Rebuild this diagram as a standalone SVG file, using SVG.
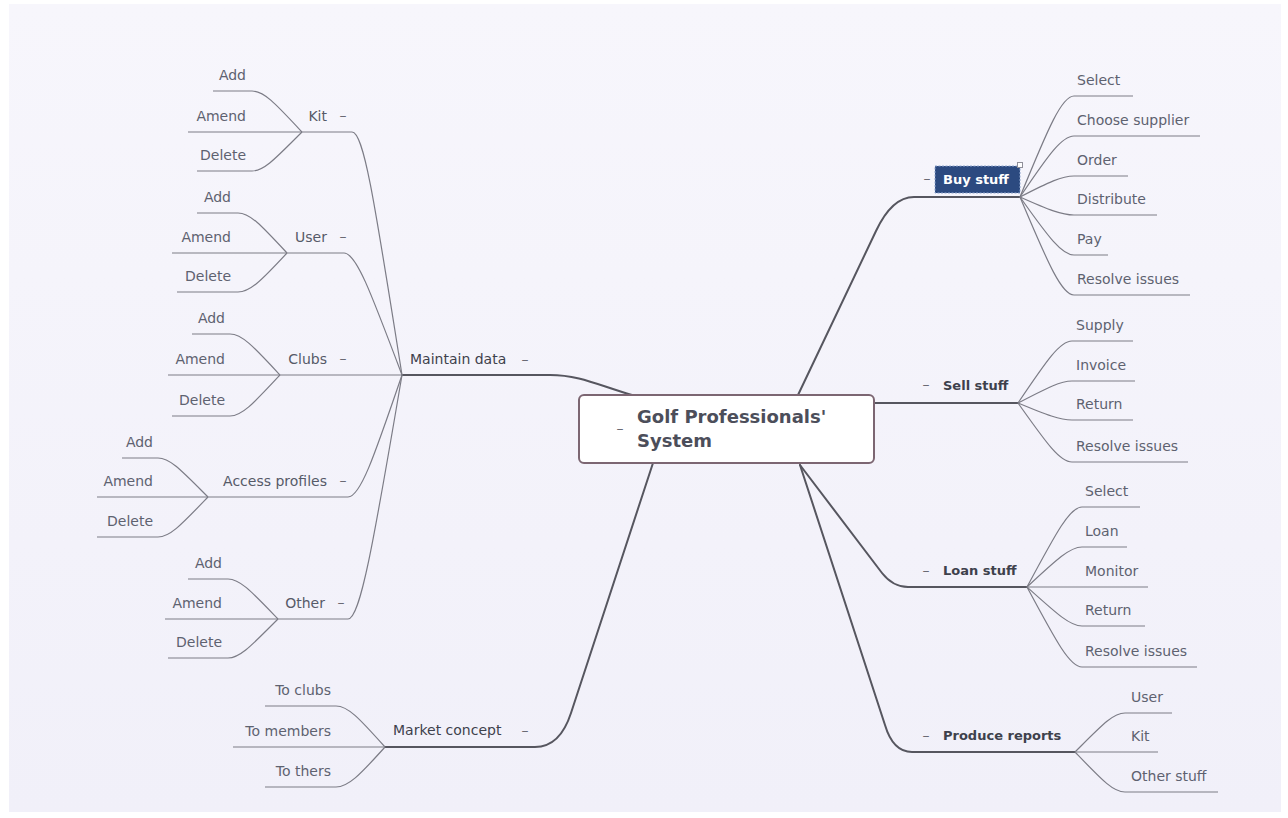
<svg xmlns="http://www.w3.org/2000/svg" width="1288" height="818" viewBox="0 0 1288 818">
<defs>
<linearGradient id="bg" x1="0" y1="0" x2="0" y2="1">
<stop offset="0" stop-color="#f7f6fc"/>
<stop offset="1" stop-color="#f1f0f9"/>
</linearGradient>
<style>
.main{fill:none;stroke:#56565f;stroke-width:2;stroke-linecap:round}
.sub{fill:none;stroke:#7c7c86;stroke-width:1.2}
text{font-family:"DejaVu Sans","Liberation Sans",sans-serif}
.leaf{font-size:14px;fill:#5e6270}
.lv2{font-size:14px;fill:#565a68}
.lv1{font-size:14px;fill:#3e414c}
.lv1b{font-size:13px;font-weight:bold;fill:#3e414c}
.dash{font-size:14px;fill:#6a6a74}
.end{text-anchor:end}
.mid{text-anchor:middle}
</style>
</defs>
<rect x="0" y="0" width="1288" height="818" fill="#ffffff"/>
<rect x="9" y="4" width="1272" height="808" fill="url(#bg)"/>

<g id="connectors">
<path class="main" d="M402,375 H550 C580,375 600,386 632,395"/>
<path class="main" d="M653,463 L571,713 Q560,747 535,747 H385"/>
<path class="main" d="M798,395 L876,231 Q892,197 914,197 H1020"/>
<path class="main" d="M874,403 H1018"/>
<path class="main" d="M800,465 L882,573 Q893,587 908,587 H1027"/>
<path class="main" d="M800,465 L885,725 Q893,752 912,752 H1075"/>

<path class="sub" d="M1020,197 C1049,126 1062,96 1074,96 H1133"/>
<path class="sub" d="M1020,197 C1049,154 1062,136 1074,136 H1200"/>
<path class="sub" d="M1020,197 C1049,182 1062,176 1074,176 H1128"/>
<path class="sub" d="M1020,197 C1049,210 1062,215 1074,215 H1157"/>
<path class="sub" d="M1020,197 C1049,238 1062,255 1074,255 H1108"/>
<path class="sub" d="M1020,197 C1049,266 1062,295 1074,295 H1190"/>

<path class="sub" d="M1018,403 C1047,360 1060,341 1072,341 H1133"/>
<path class="sub" d="M1018,403 C1047,388 1060,381 1072,381 H1135"/>
<path class="sub" d="M1018,403 C1047,415 1060,420 1072,420 H1133"/>
<path class="sub" d="M1018,403 C1047,444 1060,462 1072,462 H1188"/>

<path class="sub" d="M1027,587 C1057,531 1070,507 1082,507 H1140"/>
<path class="sub" d="M1027,587 C1057,559 1070,547 1082,547 H1127"/>
<path class="sub" d="M1027,587 H1148"/>
<path class="sub" d="M1027,587 C1057,614 1070,626 1082,626 H1145"/>
<path class="sub" d="M1027,587 C1057,643 1070,667 1082,667 H1197"/>

<path class="sub" d="M1075,752 C1102,725 1113,713 1125,713 H1172"/>
<path class="sub" d="M1075,752 H1158"/>
<path class="sub" d="M1075,752 C1102,780 1113,792 1125,792 H1218"/>

<path class="sub" d="M402,375 C375,205 364,132 352,132 H302"/>
<path class="sub" d="M402,375 C370,290 356,253 344,253 H287"/>
<path class="sub" d="M402,375 H280"/>
<path class="sub" d="M402,375 C373,460 360,497 348,497 H208"/>
<path class="sub" d="M402,375 C373,546 360,619 348,619 H278"/>

<path class="sub" d="M302,132 C275,103 264,91 252,91 H213"/>
<path class="sub" d="M302,132 H188"/>
<path class="sub" d="M302,132 C275,159 264,171 252,171 H197"/>

<path class="sub" d="M287,253 C261,225 250,213 238,213 H197"/>
<path class="sub" d="M287,253 H172"/>
<path class="sub" d="M287,253 C261,281 250,292 238,292 H177"/>

<path class="sub" d="M280,375 C253,346 242,334 230,334 H192"/>
<path class="sub" d="M280,375 H168"/>
<path class="sub" d="M280,375 C253,404 242,416 230,416 H172"/>

<path class="sub" d="M208,497 C181,470 170,458 158,458 H122"/>
<path class="sub" d="M208,497 H97"/>
<path class="sub" d="M208,497 C181,525 170,537 158,537 H97"/>

<path class="sub" d="M278,619 C251,591 240,579 228,579 H188"/>
<path class="sub" d="M278,619 H165"/>
<path class="sub" d="M278,619 C251,646 240,658 228,658 H168"/>

<path class="sub" d="M385,747 C359,718 348,706 336,706 H265"/>
<path class="sub" d="M385,747 H233"/>
<path class="sub" d="M385,747 C359,776 348,787 336,787 H265"/>
</g>

<g id="center">
<rect x="579" y="395" width="295" height="68" rx="5" fill="#ffffff" stroke="#7c6672" stroke-width="2"/>
<text class="dash" x="620" y="433" text-anchor="middle">–</text>
<text x="637" y="423" font-size="18" font-weight="bold" fill="#4c4e5a">Golf Professionals'</text>
<text x="637" y="447" font-size="18" font-weight="bold" fill="#4c4e5a">System</text>
</g>

<g id="buy-stuff">
<text class="dash mid" x="927" y="183">–</text>
<rect x="935" y="166" width="85" height="27" fill="#2c4a80" stroke="#8fa6cf" stroke-width="1" stroke-dasharray="2,1.5"/>
<rect x="1017.500" y="162.500" width="5" height="5" fill="#ffffff" stroke="#8f8f99" stroke-width="1"/>
<text x="943" y="184" font-size="13" font-weight="bold" fill="#ffffff">Buy stuff</text>
</g>
<g id="buy-select"><text class="leaf" x="1077" y="85">Select</text></g>
<g id="buy-choose"><text class="leaf" x="1077" y="125">Choose supplier</text></g>
<g id="buy-order"><text class="leaf" x="1077" y="165">Order</text></g>
<g id="buy-distribute"><text class="leaf" x="1077" y="204">Distribute</text></g>
<g id="buy-pay"><text class="leaf" x="1077" y="244">Pay</text></g>
<g id="buy-resolve"><text class="leaf" x="1077" y="284">Resolve issues</text></g>

<g id="sell-stuff"><text class="dash mid" x="926" y="389">–</text><text class="lv1b" x="943" y="390">Sell stuff</text></g>
<g id="sell-supply"><text class="leaf" x="1076" y="330">Supply</text></g>
<g id="sell-invoice"><text class="leaf" x="1076" y="370">Invoice</text></g>
<g id="sell-return"><text class="leaf" x="1076" y="409">Return</text></g>
<g id="sell-resolve"><text class="leaf" x="1076" y="451">Resolve issues</text></g>

<g id="loan-stuff"><text class="dash mid" x="926" y="575">–</text><text class="lv1b" x="943" y="575">Loan stuff</text></g>
<g id="loan-select"><text class="leaf" x="1085" y="496">Select</text></g>
<g id="loan-loan"><text class="leaf" x="1085" y="536">Loan</text></g>
<g id="loan-monitor"><text class="leaf" x="1085" y="576">Monitor</text></g>
<g id="loan-return"><text class="leaf" x="1085" y="615">Return</text></g>
<g id="loan-resolve"><text class="leaf" x="1085" y="656">Resolve issues</text></g>

<g id="produce-reports"><text class="dash mid" x="926" y="740">–</text><text class="lv1b" x="943" y="740">Produce reports</text></g>
<g id="rep-user"><text class="leaf" x="1131" y="702">User</text></g>
<g id="rep-kit"><text class="leaf" x="1131" y="741">Kit</text></g>
<g id="rep-other"><text class="leaf" x="1131" y="781">Other stuff</text></g>

<g id="maintain-data"><text class="lv1" x="410" y="364">Maintain data</text><text class="dash mid" x="525" y="364">–</text></g>

<g id="kit"><text class="lv2 end" x="327" y="121">Kit</text><text class="dash mid" x="343" y="120">–</text></g>
<g id="kit-add"><text class="leaf end" x="246" y="80">Add</text></g>
<g id="kit-amend"><text class="leaf end" x="246" y="121">Amend</text></g>
<g id="kit-delete"><text class="leaf end" x="246" y="160">Delete</text></g>

<g id="user"><text class="lv2 end" x="327" y="242">User</text><text class="dash mid" x="343" y="241">–</text></g>
<g id="user-add"><text class="leaf end" x="231" y="202">Add</text></g>
<g id="user-amend"><text class="leaf end" x="231" y="242">Amend</text></g>
<g id="user-delete"><text class="leaf end" x="231" y="281">Delete</text></g>

<g id="clubs"><text class="lv2 end" x="327" y="364">Clubs</text><text class="dash mid" x="343" y="363">–</text></g>
<g id="clubs-add"><text class="leaf end" x="225" y="323">Add</text></g>
<g id="clubs-amend"><text class="leaf end" x="225" y="364">Amend</text></g>
<g id="clubs-delete"><text class="leaf end" x="225" y="405">Delete</text></g>

<g id="access-profiles"><text class="lv2 end" x="327" y="486">Access profiles</text><text class="dash mid" x="343" y="485">–</text></g>
<g id="access-add"><text class="leaf end" x="153" y="447">Add</text></g>
<g id="access-amend"><text class="leaf end" x="153" y="486">Amend</text></g>
<g id="access-delete"><text class="leaf end" x="153" y="526">Delete</text></g>

<g id="other"><text class="lv2 end" x="325" y="608">Other</text><text class="dash mid" x="341" y="607">–</text></g>
<g id="other-add"><text class="leaf end" x="222" y="568">Add</text></g>
<g id="other-amend"><text class="leaf end" x="222" y="608">Amend</text></g>
<g id="other-delete"><text class="leaf end" x="222" y="647">Delete</text></g>

<g id="market-concept"><text class="lv1" x="393" y="735">Market concept</text><text class="dash mid" x="525" y="735">–</text></g>
<g id="mk-clubs"><text class="leaf end" x="331" y="695">To clubs</text></g>
<g id="mk-members"><text class="leaf end" x="331" y="736">To members</text></g>
<g id="mk-others"><text class="leaf end" x="331" y="776">To thers</text></g>
</svg>
